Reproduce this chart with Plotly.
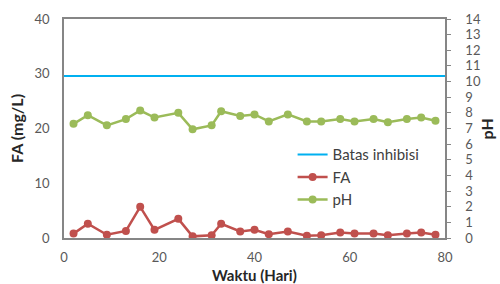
import plotly.graph_objects as go

days = [2, 5, 9, 13, 16, 19, 24, 27, 31, 33, 37, 40, 43, 47, 51, 54, 58, 61, 65, 68, 72, 75, 78]
fa = [0.8, 2.6, 0.6, 1.3, 5.7, 1.5, 3.5, 0.3, 0.5, 2.6, 1.2, 1.5, 0.7, 1.2, 0.4, 0.5, 1.0, 0.8, 0.8, 0.5, 0.8, 1.0, 0.6]
ph = [7.3, 7.85, 7.2, 7.6, 8.15, 7.7, 8.0, 6.95, 7.2, 8.1, 7.8, 7.9, 7.45, 7.9, 7.45, 7.45, 7.6, 7.45, 7.6, 7.4, 7.6, 7.7, 7.5]
batas_x = [0, 80]
batas_y = [29.6, 29.6]

font_family = "Lato"
tick_color = "#595959"
axis_color = "#868686"
title_color = "#262626"

fig = go.Figure()
fig.add_trace(go.Scatter(x=batas_x, y=batas_y, mode="lines", name="Batas inhibisi",
                         line=dict(color="#00B0F0", width=2)))
fig.add_trace(go.Scatter(x=days, y=fa, mode="lines+markers", name="FA",
                         line=dict(color="#C0504D", width=2.5),
                         marker=dict(color="#C0504D", size=8)))
fig.add_trace(go.Scatter(x=days, y=ph, mode="lines+markers", name="pH", yaxis="y2",
                         line=dict(color="#9BBB59", width=2.5),
                         marker=dict(color="#9BBB59", size=8)))

fig.update_layout(
    width=500, height=284,
    margin=dict(l=64, r=55, t=19, b=46, autoexpand=False),
    paper_bgcolor="white", plot_bgcolor="white",
    font=dict(family=font_family, color=tick_color, size=12),
    xaxis=dict(range=[0, 80], tickvals=[0, 20, 40, 60, 80], showgrid=False, zeroline=False,
               showline=True, linecolor=axis_color, linewidth=1.5, mirror=True, ticks="",
               automargin=False, ticklabelstandoff=7,
               tickfont=dict(size=13, color=tick_color)),
    yaxis=dict(range=[0, 40], tickvals=[0, 10, 20, 30, 40], showgrid=False, zeroline=False,
               showline=True, linecolor=axis_color, linewidth=1.5, ticks="",
               automargin=False, ticklabelstandoff=10,
               tickfont=dict(size=13, color=tick_color)),
    yaxis2=dict(range=[0, 14], dtick=1, overlaying="y", side="right", showgrid=False, zeroline=False,
                showline=True, linecolor=axis_color, linewidth=1.5, ticks="outside", ticklen=4,
                tickcolor=axis_color, automargin=False, ticklabelstandoff=12,
                tickfont=dict(size=13, color=tick_color)),
    legend=dict(x=0.6, y=0.455, xanchor="left", yanchor="top", bgcolor="rgba(0,0,0,0)",
                font=dict(size=15, color="#404040"), tracegroupgap=0, itemwidth=30),
    showlegend=True,
    annotations=[
        dict(text="<b>Waktu (Hari)</b>", xref="paper", yref="paper", x=0.5, y=-0.168,
             xanchor="center", yanchor="middle", showarrow=False,
             font=dict(size=15, color=title_color)),
        dict(text="<b>FA (mg/L)</b>", xref="paper", yref="paper", x=-0.125, y=0.5,
             xanchor="center", yanchor="middle", showarrow=False, textangle=-90,
             font=dict(size=16, color=title_color)),
        dict(text="<b>pH</b>", xref="paper", yref="paper", x=1.11, y=0.5,
             xanchor="center", yanchor="middle", showarrow=False, textangle=-90,
             font=dict(size=16, color=title_color)),
    ],
)

fig.write_html("out.html", config={"displayModeBar": False},
               post_script="document.body.style.margin='0';document.body.style.overflow='hidden';")
